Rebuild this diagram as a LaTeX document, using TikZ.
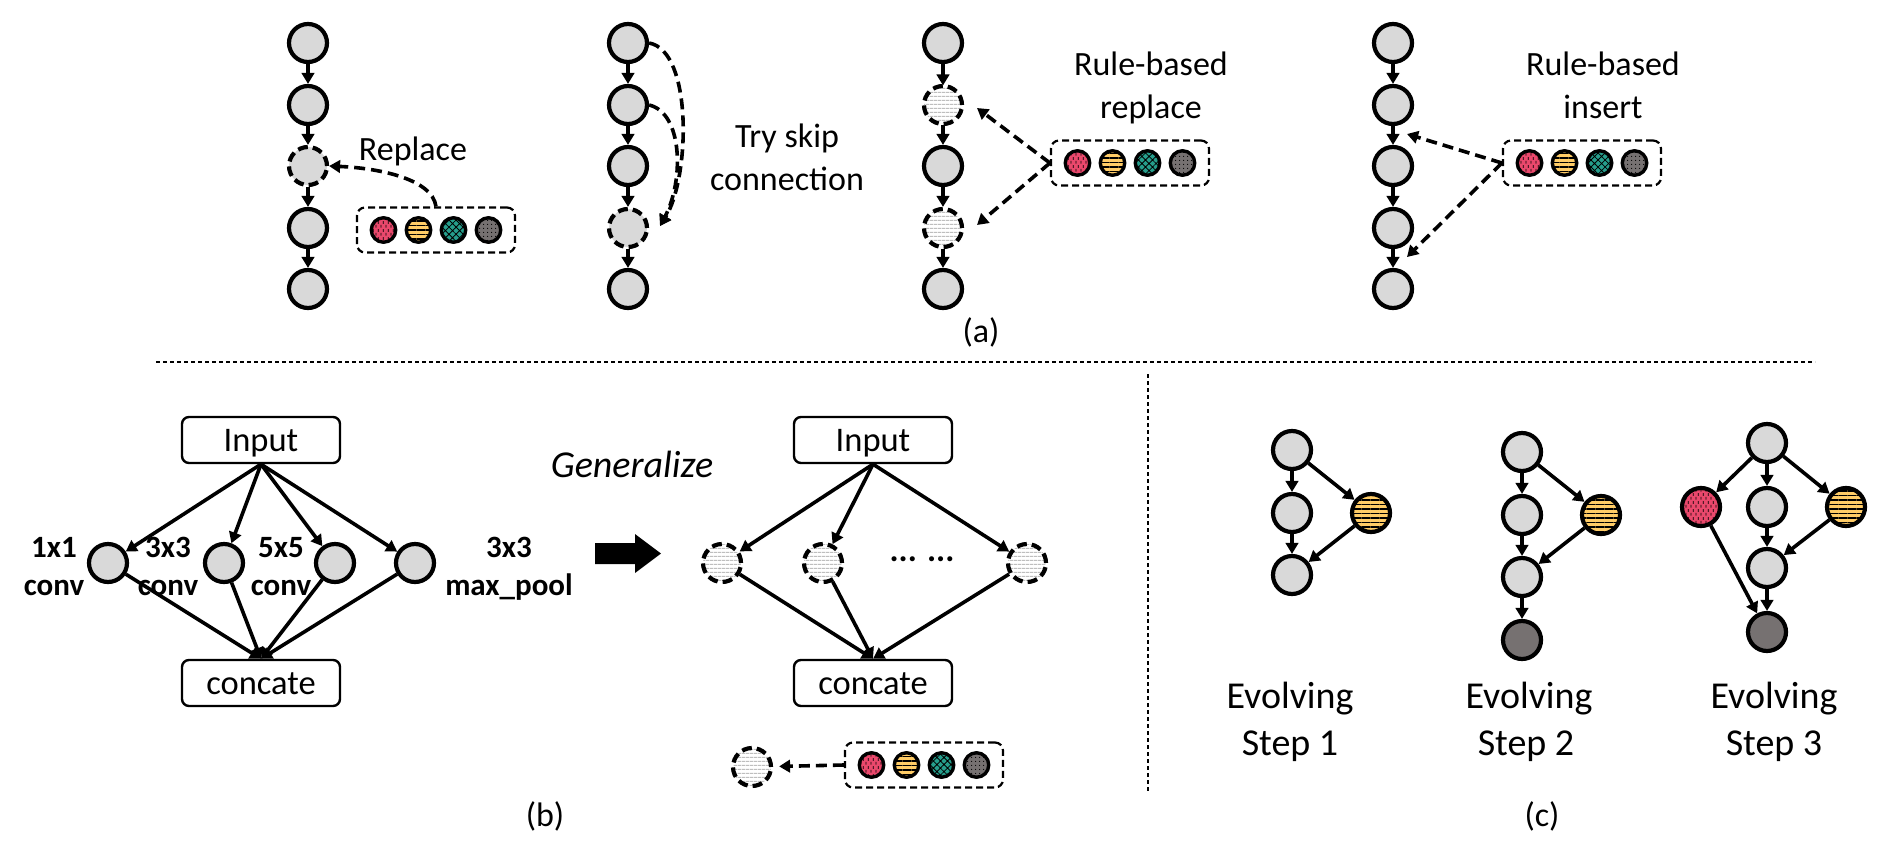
\documentclass[tikz,border=0pt]{standalone}
\usepackage{fontspec}
\setmainfont{Carlito}
\usetikzlibrary{arrows.meta,patterns.meta,calc}
\definecolor{ngray}{HTML}{D9D9D9}
\definecolor{pinkc}{RGB}{234,72,108}
\definecolor{yellowc}{RGB}{255,204,102}
\definecolor{tealc}{RGB}{38,158,140}
\definecolor{dgray}{RGB}{118,113,113}
\definecolor{sgray}{RGB}{190,190,190}
\tikzdeclarepattern{
  name=vdash,
  type=uncolored,
  bounding box={(0pt,0pt) and (5pt,8pt)},
  tile size={(5pt,8pt)},
  code={
    \draw[line width=0.9pt] (1.25pt,0.5pt) -- (1.25pt,3.5pt) (3.75pt,4.5pt) -- (3.75pt,7.5pt);
  }
}
\newcommand\drawpalette[2]{%
  \node[palbox] (#1) at (#2) {};
  \node[pc,pinkp] (#1-1) at ([xshift=-52.5pt]#1.center) {};
  \node[pc,yellowp] (#1-2) at ([xshift=-17.5pt]#1.center) {};
  \node[pc,tealp] (#1-3) at ([xshift=17.5pt]#1.center) {};
  \node[pc,grayp] (#1-4) at ([xshift=52.5pt]#1.center) {};
}
\begin{document}
\begin{tikzpicture}[x=1pt,y=-1pt,
  font=\fontsize{34}{40}\selectfont,
  nd/.style={circle, draw, line width=4.2pt, minimum size=38pt, inner sep=0pt, fill=ngray},
  dnd/.style={nd, dash pattern=on 10pt off 5pt},
  snd/.style={circle, draw, line width=4.2pt, minimum size=38pt, inner sep=0pt, dash pattern=on 10pt off 5pt, preaction={fill=white}, pattern={Lines[angle=0,distance=4pt,line width=1.1pt]}, pattern color=sgray},
  pc/.style={circle, draw, line width=3.4pt, minimum size=24.5pt, inner sep=0pt},
  pinkp/.style={preaction={fill=pinkc}, pattern=vdash, pattern color=black},
  yellowp/.style={preaction={fill=yellowc}, pattern={Lines[angle=0,distance=4.5pt,line width=1.9pt]}, pattern color=black},
  tealp/.style={preaction={fill=tealc}, pattern={Hatch[angle=45,distance=5pt,line width=0.8pt]}, pattern color=black},
  grayp/.style={preaction={fill=dgray}, pattern={Dots[distance=4pt,radius=0.7pt]}, pattern color=black},
  ynd/.style={circle, draw, line width=4.2pt, minimum size=38pt, inner sep=0pt, yellowp},
  rnd/.style={circle, draw, line width=4.2pt, minimum size=38pt, inner sep=0pt, pinkp},
  knd/.style={nd, fill=dgray},
  palbox/.style={draw, line width=2.2pt, dash pattern=on 7pt off 4pt, rounded corners=8pt, minimum width=158pt, minimum height=45pt, inner sep=0pt},
  arr/.style={-{Triangle[length=11pt,width=12.5pt]}, line width=3.6pt},
  darr/.style={arr, dash pattern=on 11pt off 6pt},
  bx/.style={draw, line width=2.4pt, rounded corners=7pt, minimum width=158pt, minimum height=46pt, text height=22pt, text depth=0pt, inner sep=0pt, font=\fontsize{34.5}{40}\selectfont},
  lbl/.style={font=\fontsize{31}{36}\selectfont\bfseries, anchor=base},
  txt/.style={anchor=base},
  big/.style={anchor=base, font=\fontsize{38}{44}\selectfont},
  sep/.style={line width=1.3pt, dash pattern=on 4pt off 3pt}
]
\useasboundingbox (0,0) rectangle (1887,860);

% ---------- panel (a), column 1 ----------
\node[nd]  (a1) at (308,43) {};
\node[nd]  (a2) at (308,105) {};
\node[dnd] (a3) at (308,166) {};
\node[nd]  (a4) at (308,228) {};
\node[nd]  (a5) at (308,289) {};
\foreach \i/\j in {a1/a2,a2/a3,a3/a4,a4/a5} \draw[arr] (\i) -- (\j);
\drawpalette{p1}{436,230}
\draw[darr] (p1.north) .. controls +(-4,-28) and +(48,2) .. (a3.east);
\node[txt] (t1) at (413,160) {Replace};

% ---------- column 2 ----------
\node[nd]  (b1) at (628,43) {};
\node[nd]  (b2) at (628,105) {};
\node[nd]  (b3) at (628,166) {};
\node[dnd] (b4) at (628,228) {};
\node[nd]  (b5) at (628,289) {};
\foreach \i/\j in {b1/b2,b2/b3,b3/b4,b4/b5} \draw[arr] (\i) -- (\j);
\coordinate (skipend) at (660,226);
\draw[darr] (b1.east) .. controls +(44,8) and +(30,-48) .. (skipend);
\draw[darr] (b2.east) .. controls +(34,8) and +(24,-45) .. (skipend);
\node[txt] (t2a) at (787,147) {Try skip};
\node[txt] (t2b) at (787,190) {connection};

% ---------- column 3 ----------
\node[nd]  (c1) at (943,43) {};
\node[snd] (c2) at (943,105) {};
\node[nd]  (c3) at (943,166) {};
\node[snd] (c4) at (943,228) {};
\node[nd]  (c5) at (943,289) {};
\foreach \i/\j in {c1/c2,c2/c3,c3/c4,c4/c5} \draw[arr] (\i) -- (\j);
\drawpalette{p3}{1130,163}
\coordinate (r1) at (977,108);
\coordinate (r2) at (977,225);
\draw[darr] (p3.west) -- (r1);
\draw[darr] (p3.west) -- (r2);
\node[txt] (t3a) at (1151,75) {Rule-based};
\node[txt] (t3b) at (1151,118) {replace};

% ---------- column 4 ----------
\node[nd] (d1) at (1393,43) {};
\node[nd] (d2) at (1393,105) {};
\node[nd] (d3) at (1393,166) {};
\node[nd] (d4) at (1393,228) {};
\node[nd] (d5) at (1393,289) {};
\foreach \i/\j in {d1/d2,d2/d3,d3/d4,d4/d5} \draw[arr] (\i) -- (\j);
\drawpalette{p4}{1582,163}
\coordinate (i1) at (1407,134);
\coordinate (i2) at (1407,257);
\draw[darr] (p4.west) -- (i1);
\draw[darr] (p4.west) -- (i2);
\node[txt] (t4a) at (1603,75) {Rule-based};
\node[txt] (t4b) at (1603,118) {insert};

\node (la) at (981,332) {(a)};

% ---------- separators ----------
\coordinate (h1) at (156,362);
\coordinate (h2) at (1815,362);
\coordinate (v1) at (1148,374);
\coordinate (v2) at (1148,791);
\draw[sep] (h1) -- (h2);
\draw[sep] (v1) -- (v2);

% ---------- panel (b), left ----------
\node[bx] (inL) at (261,440) {Input};
\node[bx] (coL) at (261,683) {concate};
\node[nd] (e1) at (108,563) {};
\node[nd] (e2) at (224,563) {};
\node[nd] (e3) at (335,563) {};
\node[nd] (e4) at (415,563) {};
\foreach \i in {e1,e2,e3,e4} {\draw[arr] (inL.south) -- (\i); \draw[arr] (\i) -- (coL.north);}
\node[lbl] (l1a) at (54,557) {1x1};
\node[lbl] (l1b) at (54,595) {conv};
\node[lbl] (l2a) at (168,557) {3x3};
\node[lbl] (l2b) at (168,595) {conv};
\node[lbl] (l3a) at (281,557) {5x5};
\node[lbl] (l3b) at (281,595) {conv};
\node[lbl] (l4a) at (509,557) {3x3};
\node[lbl] (l4b) at (509,595) {max\_pool};

\node[big] (gen) at (632,477) {\itshape Generalize};
\fill (595,543) -- (635,543) -- (635,534) -- (661,553.5) -- (635,573) -- (635,564) -- (595,564) -- cycle;

% ---------- panel (b), right ----------
\node[bx] (inR) at (873,440) {Input};
\node[bx] (coR) at (873,683) {concate};
\node[snd] (f1) at (722,563) {};
\node[snd] (f2) at (823,563) {};
\node[snd] (f3) at (1027,563) {};
\foreach \i in {f1,f2,f3} {\draw[arr] (inR.south) -- (\i); \draw[arr] (\i) -- (coR.north);}
\node (dots) at (922,559) {\bfseries ... ...};
\node[snd] (g) at (752,767) {};
\drawpalette{p5}{924,765}
\draw[darr, shorten >=6pt] (p5.west) -- (g);
\node (lb) at (545,816) {(b)};

% ---------- panel (c) ----------
\node[nd]  (s1a) at (1292,450) {};
\node[nd]  (s1b) at (1292,513) {};
\node[nd]  (s1c) at (1292,575) {};
\node[ynd] (s1y) at (1371,513) {};
\draw[arr] (s1a) -- (s1b);
\draw[arr] (s1b) -- (s1c);
\draw[arr] (s1a) -- (s1y);
\draw[arr] (s1y) -- (s1c);

\node[nd]  (s2a) at (1522,452) {};
\node[nd]  (s2b) at (1522,515) {};
\node[ynd] (s2y) at (1601,515) {};
\node[nd]  (s2c) at (1522,577) {};
\node[knd] (s2d) at (1522,640) {};
\draw[arr] (s2a) -- (s2b);
\draw[arr] (s2b) -- (s2c);
\draw[arr] (s2a) -- (s2y);
\draw[arr] (s2y) -- (s2c);
\draw[arr] (s2c) -- (s2d);

\node[nd]  (s3a) at (1767,443) {};
\node[rnd] (s3r) at (1701,507) {};
\node[nd]  (s3b) at (1767,507) {};
\node[ynd] (s3y) at (1846,507) {};
\node[nd]  (s3c) at (1767,568) {};
\node[knd] (s3d) at (1767,632) {};
\draw[arr] (s3a) -- (s3r);
\draw[arr] (s3a) -- (s3b);
\draw[arr] (s3a) -- (s3y);
\draw[arr] (s3b) -- (s3c);
\draw[arr] (s3y) -- (s3c);
\draw[arr] (s3c) -- (s3d);
\draw[arr] (s3r) -- (s3d);

\node[big] (ev1) at (1290,708) {Evolving};
\node[big] (st1) at (1290,755) {Step 1};
\node[big] (ev2) at (1529,708) {Evolving};
\node[big] (st2) at (1526,755) {Step 2};
\node[big] (ev3) at (1774,708) {Evolving};
\node[big] (st3) at (1774,755) {Step 3};
\node (lc) at (1542,816) {(c)};
\end{tikzpicture}
\end{document}
